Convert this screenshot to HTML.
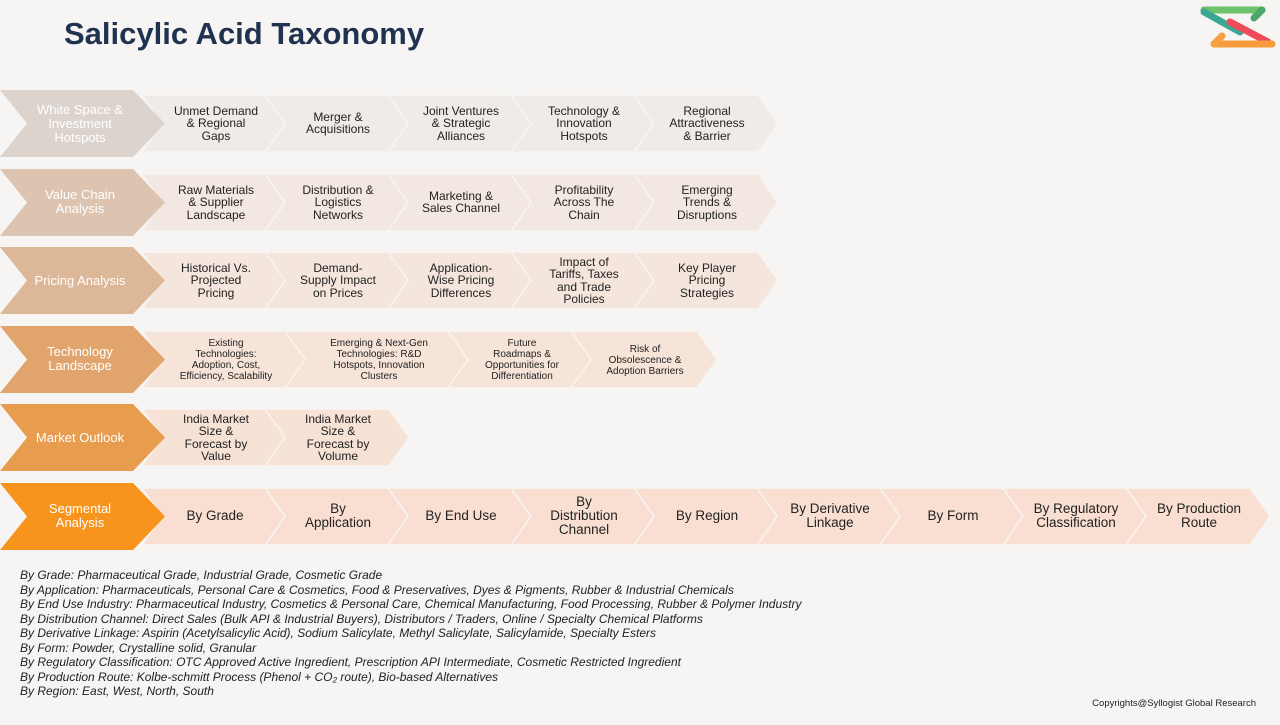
<!DOCTYPE html>
<html><head><meta charset="utf-8"><style>
html,body{margin:0;padding:0;background:#f7f5f3;}
body{width:1280px;height:720px;overflow:hidden;position:relative;font-family:"Liberation Sans",Arial,sans-serif;}
svg text{font-family:"Liberation Sans",Arial,sans-serif;}
.fn{position:absolute;left:20px;top:568px;font-size:12px;font-style:italic;color:#222;line-height:14.5px;}
</style></head><body>
<svg width="1280" height="720" viewBox="0 0 1280 720" xmlns="http://www.w3.org/2000/svg">
<text x="64" y="44" font-size="31" font-weight="bold" fill="#1f3350">Salicylic Acid Taxonomy</text>
<g stroke-linecap="round" stroke-width="7" fill="none">
<line x1="1204" y1="10" x2="1262" y2="10" stroke="#6cc36c"/>
<line x1="1262" y1="10" x2="1254" y2="18" stroke="#4aa86a"/>
<line x1="1204" y1="12" x2="1240" y2="32" stroke="#3aa894"/>
<line x1="1230" y1="22" x2="1268" y2="42" stroke="#ef4b5a"/>
<line x1="1214" y1="44" x2="1272" y2="44" stroke="#f79a3c"/>
<line x1="1214" y1="44" x2="1222" y2="36" stroke="#f7a043"/>
</g>
<g stroke="#f7f5f3" stroke-width="1.5">
<g fill="#efebe8">
<polygon points="142,95 266,95 286,123.5 266,152 142,152 162,123.5"/>
<polygon points="265,95 389,95 409,123.5 389,152 265,152 285,123.5"/>
<polygon points="388,95 512,95 532,123.5 512,152 388,152 408,123.5"/>
<polygon points="511,95 635,95 655,123.5 635,152 511,152 531,123.5"/>
<polygon points="634,95 758,95 778,123.5 758,152 634,152 654,123.5"/>
</g>
<g fill="#f2e8e1">
<polygon points="142,174 266,174 286,202.5 266,231 142,231 162,202.5"/>
<polygon points="265,174 389,174 409,202.5 389,231 265,231 285,202.5"/>
<polygon points="388,174 512,174 532,202.5 512,231 388,231 408,202.5"/>
<polygon points="511,174 635,174 655,202.5 635,231 511,231 531,202.5"/>
<polygon points="634,174 758,174 778,202.5 758,231 634,231 654,202.5"/>
</g>
<g fill="#f4e6dc">
<polygon points="142,252 266,252 286,280.5 266,309 142,309 162,280.5"/>
<polygon points="265,252 389,252 409,280.5 389,309 265,309 285,280.5"/>
<polygon points="388,252 512,252 532,280.5 512,309 388,309 408,280.5"/>
<polygon points="511,252 635,252 655,280.5 635,309 511,309 531,280.5"/>
<polygon points="634,252 758,252 778,280.5 758,309 634,309 654,280.5"/>
</g>
<g fill="#f6e4d9">
<polygon points="142,331 287,331 307,359.5 287,388 142,388 162,359.5"/>
<polygon points="285,331 450,331 470,359.5 450,388 285,388 305,359.5"/>
<polygon points="448,331 574,331 594,359.5 574,388 448,388 468,359.5"/>
<polygon points="571,331 697,331 717,359.5 697,388 571,388 591,359.5"/>
</g>
<g fill="#f7e2d6">
<polygon points="142,409 266,409 286,437.5 266,466 142,466 162,437.5"/>
<polygon points="265,409 389,409 409,437.5 389,466 265,466 285,437.5"/>
</g>
<g fill="#f9dfd1">
<polygon points="142,488 266,488 286,516.5 266,545 142,545 162,516.5"/>
<polygon points="265,488 389,488 409,516.5 389,545 265,545 285,516.5"/>
<polygon points="388,488 512,488 532,516.5 512,545 388,545 408,516.5"/>
<polygon points="511,488 635,488 655,516.5 635,545 511,545 531,516.5"/>
<polygon points="634,488 758,488 778,516.5 758,545 634,545 654,516.5"/>
<polygon points="757,488 881,488 901,516.5 881,545 757,545 777,516.5"/>
<polygon points="880,488 1004,488 1024,516.5 1004,545 880,545 900,516.5"/>
<polygon points="1003,488 1127,488 1147,516.5 1127,545 1003,545 1023,516.5"/>
<polygon points="1126,488 1250,488 1270,516.5 1250,545 1126,545 1146,516.5"/>
</g>
</g>
<polygon points="0,90 133,90 165,123.5 133,157 0,157 27,123.5" fill="#dcd3cd"/>
<polygon points="0,169 133,169 165,202.5 133,236 0,236 27,202.5" fill="#dcc4b0"/>
<polygon points="0,247 133,247 165,280.5 133,314 0,314 27,280.5" fill="#ddb898"/>
<polygon points="0,326 133,326 165,359.5 133,393 0,393 27,359.5" fill="#e0a46c"/>
<polygon points="0,404 133,404 165,437.5 133,471 0,471 27,437.5" fill="#e89c4e"/>
<polygon points="0,483 133,483 165,516.5 133,550 0,550 27,516.5" fill="#f7941d"/>
<g fill="#fff" font-size="13" text-anchor="middle">
<text x="80" y="114">White Space &amp;</text><text x="80" y="128">Investment</text><text x="80" y="142">Hotspots</text>
<text x="80" y="199">Value Chain</text><text x="80" y="213">Analysis</text>
<text x="80" y="285">Pricing Analysis</text>
<text x="80" y="356">Technology</text><text x="80" y="370">Landscape</text>
<text x="80" y="442">Market Outlook</text>
<text x="80" y="513">Segmental</text><text x="80" y="527">Analysis</text>
</g>
<g fill="#222" font-size="12" text-anchor="middle">
<text x="216" y="115">Unmet Demand</text><text x="216" y="127">&amp; Regional</text><text x="216" y="140">Gaps</text>
<text x="338" y="121">Merger &amp;</text><text x="338" y="133">Acquisitions</text>
<text x="461" y="115">Joint Ventures</text><text x="461" y="127">&amp; Strategic</text><text x="461" y="140">Alliances</text>
<text x="584" y="115">Technology &amp;</text><text x="584" y="127">Innovation</text><text x="584" y="140">Hotspots</text>
<text x="707" y="115">Regional</text><text x="707" y="127">Attractiveness</text><text x="707" y="140">&amp; Barrier</text>
<text x="216" y="194">Raw Materials</text><text x="216" y="206">&amp; Supplier</text><text x="216" y="219">Landscape</text>
<text x="338" y="194">Distribution &amp;</text><text x="338" y="206">Logistics</text><text x="338" y="219">Networks</text>
<text x="461" y="200">Marketing &amp;</text><text x="461" y="212">Sales Channel</text>
<text x="584" y="194">Profitability</text><text x="584" y="206">Across The</text><text x="584" y="219">Chain</text>
<text x="707" y="194">Emerging</text><text x="707" y="206">Trends &amp;</text><text x="707" y="219">Disruptions</text>
<text x="216" y="272">Historical Vs.</text><text x="216" y="284">Projected</text><text x="216" y="297">Pricing</text>
<text x="338" y="272">Demand-</text><text x="338" y="284">Supply Impact</text><text x="338" y="297">on Prices</text>
<text x="461" y="272">Application-</text><text x="461" y="284">Wise Pricing</text><text x="461" y="297">Differences</text>
<text x="584" y="266">Impact of</text><text x="584" y="278">Tariffs, Taxes</text><text x="584" y="291">and Trade</text><text x="584" y="303">Policies</text>
<text x="707" y="272">Key Player</text><text x="707" y="284">Pricing</text><text x="707" y="297">Strategies</text>
<text x="216" y="423">India Market</text><text x="216" y="435">Size &amp;</text><text x="216" y="448">Forecast by</text><text x="216" y="460">Value</text>
<text x="338" y="423">India Market</text><text x="338" y="435">Size &amp;</text><text x="338" y="448">Forecast by</text><text x="338" y="460">Volume</text>
</g>
<g fill="#222" font-size="10" text-anchor="middle">
<text x="226" y="346">Existing</text><text x="226" y="357">Technologies:</text><text x="226" y="368">Adoption, Cost,</text><text x="226" y="379">Efficiency, Scalability</text>
<text x="379" y="346">Emerging &amp; Next-Gen</text><text x="379" y="357">Technologies: R&amp;D</text><text x="379" y="368">Hotspots, Innovation</text><text x="379" y="379">Clusters</text>
<text x="522" y="346">Future</text><text x="522" y="357">Roadmaps &amp;</text><text x="522" y="368">Opportunities for</text><text x="522" y="379">Differentiation</text>
<text x="645" y="352">Risk of</text><text x="645" y="363">Obsolescence &amp;</text><text x="645" y="374">Adoption Barriers</text>
</g>
<g fill="#222" font-size="13.5" text-anchor="middle">
<text x="215" y="520">By Grade</text>
<text x="338" y="513">By</text><text x="338" y="527">Application</text>
<text x="461" y="520">By End Use</text>
<text x="584" y="506">By</text><text x="584" y="520">Distribution</text><text x="584" y="534">Channel</text>
<text x="707" y="520">By Region</text>
<text x="830" y="513">By Derivative</text><text x="830" y="527">Linkage</text>
<text x="953" y="520">By Form</text>
<text x="1076" y="513">By Regulatory</text><text x="1076" y="527">Classification</text>
<text x="1199" y="513">By Production</text><text x="1199" y="527">Route</text>
</g>
<text x="1256" y="706" font-size="9.5" fill="#222" text-anchor="end">Copyrights@Syllogist Global Research</text>
</svg>
<div class="fn">
By Grade: Pharmaceutical Grade, Industrial Grade, Cosmetic Grade<br>
By Application: Pharmaceuticals, Personal Care &amp; Cosmetics, Food &amp; Preservatives, Dyes &amp; Pigments, Rubber &amp; Industrial Chemicals<br>
By End Use Industry: Pharmaceutical Industry, Cosmetics &amp; Personal Care, Chemical Manufacturing, Food Processing, Rubber &amp; Polymer Industry<br>
By Distribution Channel: Direct Sales (Bulk API &amp; Industrial Buyers), Distributors / Traders, Online / Specialty Chemical Platforms<br>
By Derivative Linkage: Aspirin (Acetylsalicylic Acid), Sodium Salicylate, Methyl Salicylate, Salicylamide, Specialty Esters<br>
By Form: Powder, Crystalline solid, Granular<br>
By Regulatory Classification: OTC Approved Active Ingredient, Prescription API Intermediate, Cosmetic Restricted Ingredient<br>
By Production Route: Kolbe-schmitt Process (Phenol + CO₂ route), Bio-based Alternatives<br>
By Region: East, West, North, South
</div>
</body></html>
